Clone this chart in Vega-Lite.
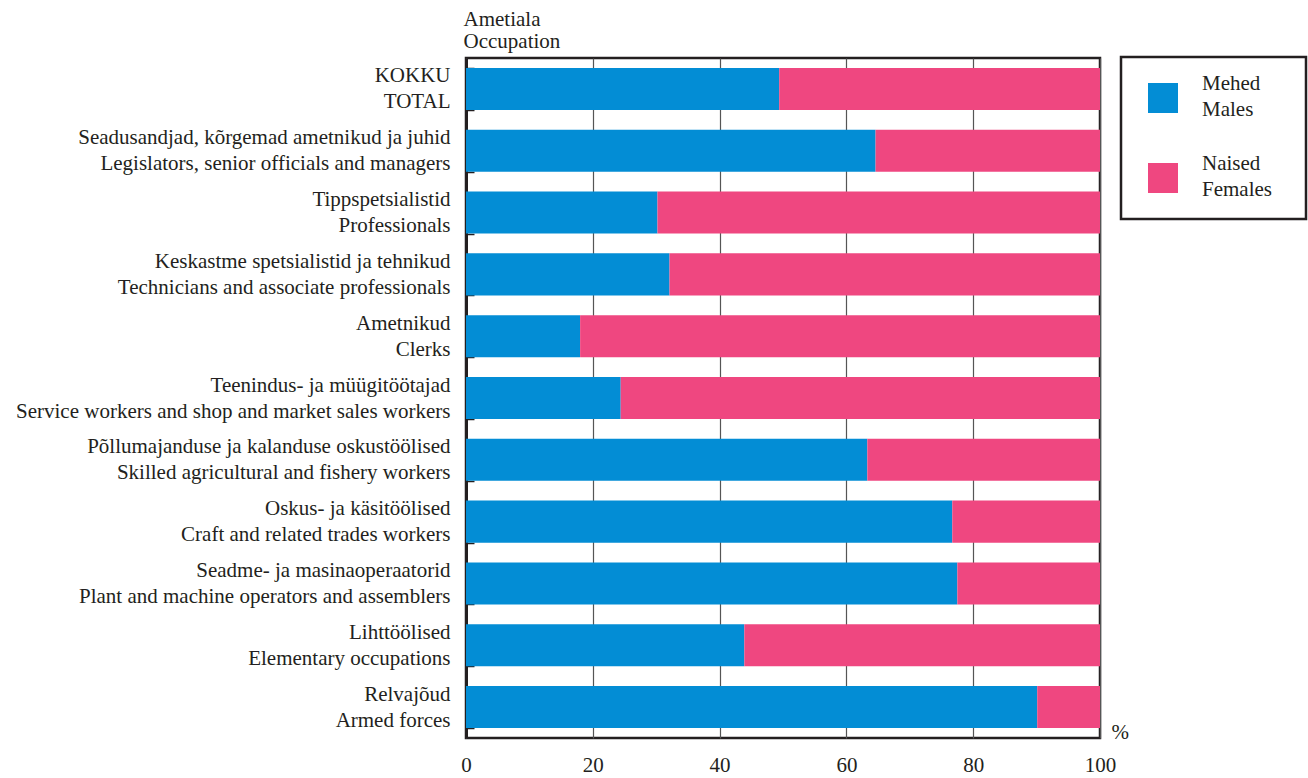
{
  "$schema": "https://vega.github.io/schema/vega-lite/v6.json",
  "width": 634,
  "height": 680,
  "autosize": {"type": "none"},
  "padding": {"left": 466, "top": 58, "right": 208, "bottom": 40},
  "background": "white",
  "config": {
    "font": "Times New Roman, Liberation Serif, DejaVu Serif, serif",
    "view": {"stroke": "#231f20", "strokeWidth": 2.5},
    "axis": {"labelFont": "Times New Roman, Liberation Serif, DejaVu Serif, serif", "titleFont": "Times New Roman, Liberation Serif, DejaVu Serif, serif"},
    "legend": {"strokeColor": "#231f20", "strokeWidth": 2.5, "labelFont": "Times New Roman, Liberation Serif, DejaVu Serif, serif"}
  },
  "data": {"values": [
    {"occ": "KOKKU|TOTAL", "sex": "Mehed|Males", "ord": 1, "pct": 49.4},
    {"occ": "KOKKU|TOTAL", "sex": "Naised|Females", "ord": 2, "pct": 50.6},
    {"occ": "Seadusandjad, kõrgemad ametnikud ja juhid|Legislators, senior officials and managers", "sex": "Mehed|Males", "ord": 1, "pct": 64.6},
    {"occ": "Seadusandjad, kõrgemad ametnikud ja juhid|Legislators, senior officials and managers", "sex": "Naised|Females", "ord": 2, "pct": 35.4},
    {"occ": "Tippspetsialistid|Professionals", "sex": "Mehed|Males", "ord": 1, "pct": 30.2},
    {"occ": "Tippspetsialistid|Professionals", "sex": "Naised|Females", "ord": 2, "pct": 69.8},
    {"occ": "Keskastme spetsialistid ja tehnikud|Technicians and associate professionals", "sex": "Mehed|Males", "ord": 1, "pct": 32.1},
    {"occ": "Keskastme spetsialistid ja tehnikud|Technicians and associate professionals", "sex": "Naised|Females", "ord": 2, "pct": 67.9},
    {"occ": "Ametnikud|Clerks", "sex": "Mehed|Males", "ord": 1, "pct": 18.0},
    {"occ": "Ametnikud|Clerks", "sex": "Naised|Females", "ord": 2, "pct": 82.0},
    {"occ": "Teenindus- ja müügitöötajad|Service workers and shop and market sales workers", "sex": "Mehed|Males", "ord": 1, "pct": 24.4},
    {"occ": "Teenindus- ja müügitöötajad|Service workers and shop and market sales workers", "sex": "Naised|Females", "ord": 2, "pct": 75.6},
    {"occ": "Põllumajanduse ja kalanduse oskustöölised|Skilled agricultural and fishery workers", "sex": "Mehed|Males", "ord": 1, "pct": 63.3},
    {"occ": "Põllumajanduse ja kalanduse oskustöölised|Skilled agricultural and fishery workers", "sex": "Naised|Females", "ord": 2, "pct": 36.7},
    {"occ": "Oskus- ja käsitöölised|Craft and related trades workers", "sex": "Mehed|Males", "ord": 1, "pct": 76.7},
    {"occ": "Oskus- ja käsitöölised|Craft and related trades workers", "sex": "Naised|Females", "ord": 2, "pct": 23.3},
    {"occ": "Seadme- ja masinaoperaatorid|Plant and machine operators and assemblers", "sex": "Mehed|Males", "ord": 1, "pct": 77.5},
    {"occ": "Seadme- ja masinaoperaatorid|Plant and machine operators and assemblers", "sex": "Naised|Females", "ord": 2, "pct": 22.5},
    {"occ": "Lihttöölised|Elementary occupations", "sex": "Mehed|Males", "ord": 1, "pct": 43.9},
    {"occ": "Lihttöölised|Elementary occupations", "sex": "Naised|Females", "ord": 2, "pct": 56.1},
    {"occ": "Relvajõud|Armed forces", "sex": "Mehed|Males", "ord": 1, "pct": 90.1},
    {"occ": "Relvajõud|Armed forces", "sex": "Naised|Females", "ord": 2, "pct": 9.9}
  ]},
  "mark": {"type": "bar"},
  "encoding": {
    "y": {
      "field": "occ", "type": "nominal", "sort": null,
      "scale": {"paddingInner": 0.32, "paddingOuter": 0.16},
      "axis": {
        "title": ["Ametiala", "Occupation"],
        "titleAngle": 0, "titleAlign": "left", "titleBaseline": "alphabetic",
        "titleX": -3, "titleY": -33, "titleFontSize": 21, "titleFontWeight": "normal",
        "titleLineHeight": 22, "titleColor": "#231f20",
        "labelExpr": "split(datum.label, '|')",
        "labelFontSize": 21, "labelLineHeight": 26, "labelColor": "#231f20",
        "labelBaseline": "alphabetic", "labelOffset": -7,
        "labelPadding": 24, "labelLimit": 0,
        "tickSize": -8, "tickBand": "extent", "tickColor": "#231f20", "tickWidth": 1.5,
        "domainColor": "#231f20", "domainWidth": 3
      }
    },
    "x": {
      "field": "pct", "type": "quantitative", "stack": "zero",
      "scale": {"domain": [0, 100], "nice": false},
      "axis": {
        "values": [0, 20, 40, 60, 80, 100],
        "grid": true, "gridColor": "#555555", "gridWidth": 1.2,
        "ticks": false, "domain": false, "labelFlush": false,
        "labelFontSize": 21, "labelPadding": 16, "labelColor": "#231f20",
        "title": "%", "titleX": 645, "titleY": -6, "titleAlign": "left", "titleBaseline": "middle",
        "titleFontSize": 21, "titleFontWeight": "normal", "titleColor": "#231f20"
      }
    },
    "color": {
      "field": "sex", "type": "nominal",
      "scale": {"domain": ["Mehed|Males", "Naised|Females"], "range": ["#038dd5", "#ef4780"]},
      "legend": {
        "orient": "none", "legendX": 655, "legendY": -1,
        "title": " ", "titleOrient": "right", "titleFontSize": 1, "titlePadding": 21,
        "labelExpr": "split(datum.label, '|')",
        "labelFontSize": 21, "labelColor": "#231f20", "labelLimit": 0,
        "symbolType": "square", "symbolSize": 900, "symbolStrokeWidth": 0,
        "symbolOffset": 14, "clipHeight": 56,
        "labelOffset": 24, "rowPadding": 24, "padding": 13,
        "direction": "vertical",
        "encode": {"labels": {"update": {"lineHeight": {"value": 26}, "dy": {"value": -14}}}}
      }
    },
    "order": {"field": "ord"}
  }
}
